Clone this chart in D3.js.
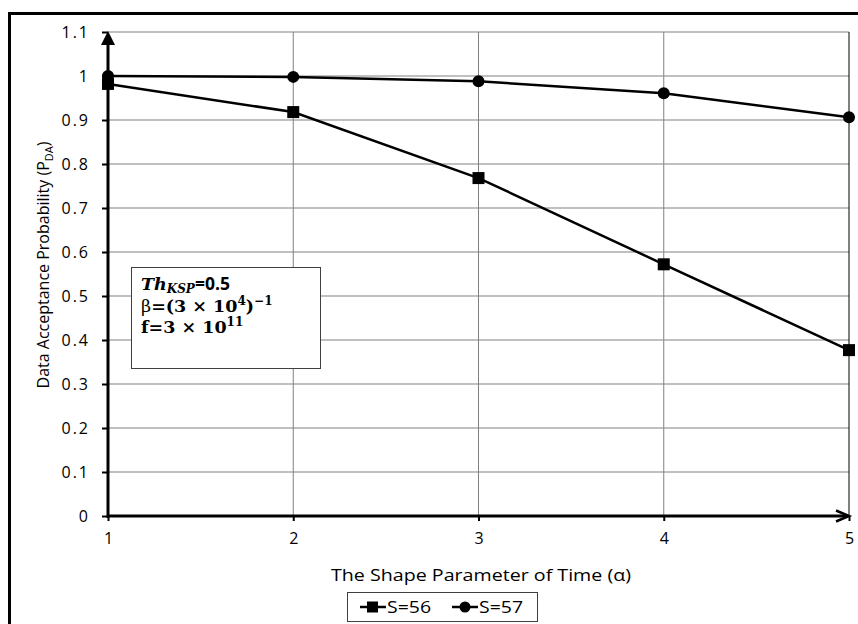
<!DOCTYPE html>
<html>
<head>
<meta charset="utf-8">
<script src="https://cdn.jsdelivr.net/npm/d3@7"></script>
<style>
  body { margin: 0; background: #fff; }
  svg { display: block; font-family: "Open Sans", "Noto Sans", sans-serif; }
</style>
</head>
<body>
<svg id="chart" width="858" height="624"></svg>
<script>
// values
const alphas = [1, 2, 3, 4, 5];
const s56 = [0.982, 0.918, 0.768, 0.572, 0.377];
const s57 = [1.0, 0.998, 0.988, 0.961, 0.906];
const yTicks = [0, 0.1, 0.2, 0.3, 0.4, 0.5, 0.6, 0.7, 0.8, 0.9, 1, 1.1];
const seriesNames = ["S=56", "S=57"];

const svg = d3.select("#chart");

// outer frame (cut off at the right and bottom like the original)
svg.append("rect")
    .attr("x", 9.5).attr("y", 13.5)
    .attr("width", 900).attr("height", 700)
    .attr("fill", "none").attr("stroke", "#000").attr("stroke-width", 3);

const x = d3.scaleLinear().domain([1, 5]).range([108, 849]);
const y = d3.scaleLinear().domain([0, 1.1]).range([516, 32]);

// grid
svg.append("g").selectAll("line")
    .data(yTicks.filter(d => d > 0))
    .join("line")
    .attr("x1", x(1)).attr("x2", x(5))
    .attr("y1", d => y(d)).attr("y2", d => y(d))
    .attr("stroke", "#808080").attr("stroke-width", 1);

svg.append("g").selectAll("line")
    .data(alphas.slice(1))
    .join("line")
    .attr("x1", d => x(d)).attr("x2", d => x(d))
    .attr("y1", y(0)).attr("y2", y(1.1))
    .attr("stroke", d => d === 5 ? "#000" : "#808080").attr("stroke-width", 1);

// y axis
const yAxis = svg.append("g")
    .attr("transform", `translate(${x(1)},0)`)
    .call(d3.axisLeft(y).tickValues(yTicks).tickSize(6).tickPadding(12)
        .tickFormat(d => d3.format("~g")(d)));
yAxis.select(".domain").remove();
yAxis.selectAll(".tick line").attr("stroke", "#000").attr("stroke-width", 2);
yAxis.selectAll(".tick text")
    .style("font-size", "16px").style("letter-spacing", "2px")
    .attr("fill", "#000").attr("font-family", "Open Sans, sans-serif");

// x axis
const xAxis = svg.append("g")
    .attr("transform", `translate(0,${y(0)})`)
    .call(d3.axisBottom(x).tickValues(alphas).tickSize(5).tickPadding(12)
        .tickFormat(d3.format("d")));
xAxis.select(".domain").remove();
xAxis.selectAll(".tick line").attr("stroke", "#000").attr("stroke-width", 2);
xAxis.selectAll(".tick text").style("font-size", "16px")
    .attr("fill", "#000").attr("font-family", "Open Sans, sans-serif");

// thick axis lines with arrows
svg.append("line")
    .attr("x1", x(1)).attr("x2", x(1))
    .attr("y1", y(0) + 2).attr("y2", y(1.1) + 8)
    .attr("stroke", "#000").attr("stroke-width", 3);
svg.append("path")
    .attr("d", `M${x(1)},${y(1.1) - 1} L${x(1) - 7},${y(1.1) + 13} L${x(1) + 7},${y(1.1) + 13} Z`)
    .attr("fill", "#000");

svg.append("line")
    .attr("x1", x(1)).attr("x2", x(5) - 2)
    .attr("y1", y(0)).attr("y2", y(0))
    .attr("stroke", "#000").attr("stroke-width", 3);
svg.append("path")
    .attr("d", `M${x(5) - 13},${y(0) - 5.5} L${x(5)},${y(0)} L${x(5) - 13},${y(0) + 5.5}`)
    .attr("fill", "none").attr("stroke", "#000").attr("stroke-width", 2.5);

// axis titles
svg.append("text")
    .attr("x", 481).attr("y", 581)
    .attr("text-anchor", "middle").attr("font-size", 16.5)
    .attr("textLength", 300).attr("lengthAdjust", "spacingAndGlyphs")
    .text("The Shape Parameter of Time (α)");

const yTitle = svg.append("text")
    .attr("transform", `translate(49,265) rotate(-90)`)
    .attr("text-anchor", "middle").attr("font-size", 16);
yTitle.append("tspan").text("Data Acceptance Probability (P");
yTitle.append("tspan").attr("font-size", 11).attr("dy", 4).text("DA");
yTitle.append("tspan").attr("dy", -4).text(")");

// series
const line = d3.line().x((d, i) => x(alphas[i])).y(d => y(d));

svg.append("path").datum(s56).attr("d", line)
    .attr("fill", "none").attr("stroke", "#000").attr("stroke-width", 2.5);
svg.append("path").datum(s57).attr("d", line)
    .attr("fill", "none").attr("stroke", "#000").attr("stroke-width", 2.5);

svg.append("g").selectAll("rect")
    .data(s56)
    .join("rect")
    .attr("x", (d, i) => x(alphas[i]) - 6).attr("y", d => y(d) - 6)
    .attr("width", 12).attr("height", 12).attr("fill", "#000");

svg.append("g").selectAll("circle")
    .data(s57)
    .join("circle")
    .attr("cx", (d, i) => x(alphas[i])).attr("cy", d => y(d))
    .attr("r", 6).attr("fill", "#000");

// parameter box
svg.append("rect")
    .attr("x", 131.5).attr("y", 267.5).attr("width", 189).attr("height", 101)
    .attr("fill", "#fff").attr("stroke", "#404040").attr("stroke-width", 1);

const boxText = svg.append("g").attr("font-weight", "bold").attr("font-size", 17.5)
    .attr("font-family", "DejaVu Serif, serif");
const t1 = boxText.append("text").attr("x", 141).attr("y", 290);
t1.append("tspan").attr("font-style", "italic").text("Th");
t1.append("tspan").attr("font-style", "italic").attr("font-size", 12).attr("dy", 3).text("KSP");
t1.append("tspan").attr("dy", -3).attr("font-family", "Open Sans, sans-serif").text("=0.5");

const t2 = boxText.append("text").attr("x", 141).attr("y", 312);
t2.append("tspan").attr("font-weight", "normal").text("β");
t2.append("tspan").text("=(3 × 10");
t2.append("tspan").attr("font-size", 12).attr("dy", -7).text("4");
t2.append("tspan").attr("dy", 7).text(")");
t2.append("tspan").attr("font-size", 12).attr("dy", -7).text("−1");

const t3 = boxText.append("text").attr("x", 141).attr("y", 333);
t3.append("tspan").text("f=3 × 10");
t3.append("tspan").attr("font-size", 12).attr("dy", -7).text("11");

// legend
const legend = svg.append("g");
legend.append("rect")
    .attr("x", 347.5).attr("y", 592.5).attr("width", 190).attr("height", 29)
    .attr("fill", "#fff").attr("stroke", "#404040").attr("stroke-width", 1);

const legendItems = legend.selectAll("g.item")
    .data(seriesNames)
    .join("g")
    .attr("class", "item")
    .attr("transform", (d, i) => `translate(${360 + i * 92},607)`);
legendItems.append("line")
    .attr("x1", 0).attr("x2", 26).attr("y1", 0).attr("y2", 0)
    .attr("stroke", "#000").attr("stroke-width", 2.5);
legendItems.each(function (d, i) {
    const g = d3.select(this);
    if (i === 0) {
        g.append("rect").attr("x", 7).attr("y", -5.5).attr("width", 11).attr("height", 11).attr("fill", "#000");
    } else {
        g.append("circle").attr("cx", 13).attr("cy", 0).attr("r", 5.5).attr("fill", "#000");
    }
});
legendItems.append("text")
    .attr("x", 27).attr("y", 6).attr("font-size", 17)
    .attr("textLength", 44).attr("lengthAdjust", "spacingAndGlyphs")
    .text(d => d);
</script>
</body>
</html>
